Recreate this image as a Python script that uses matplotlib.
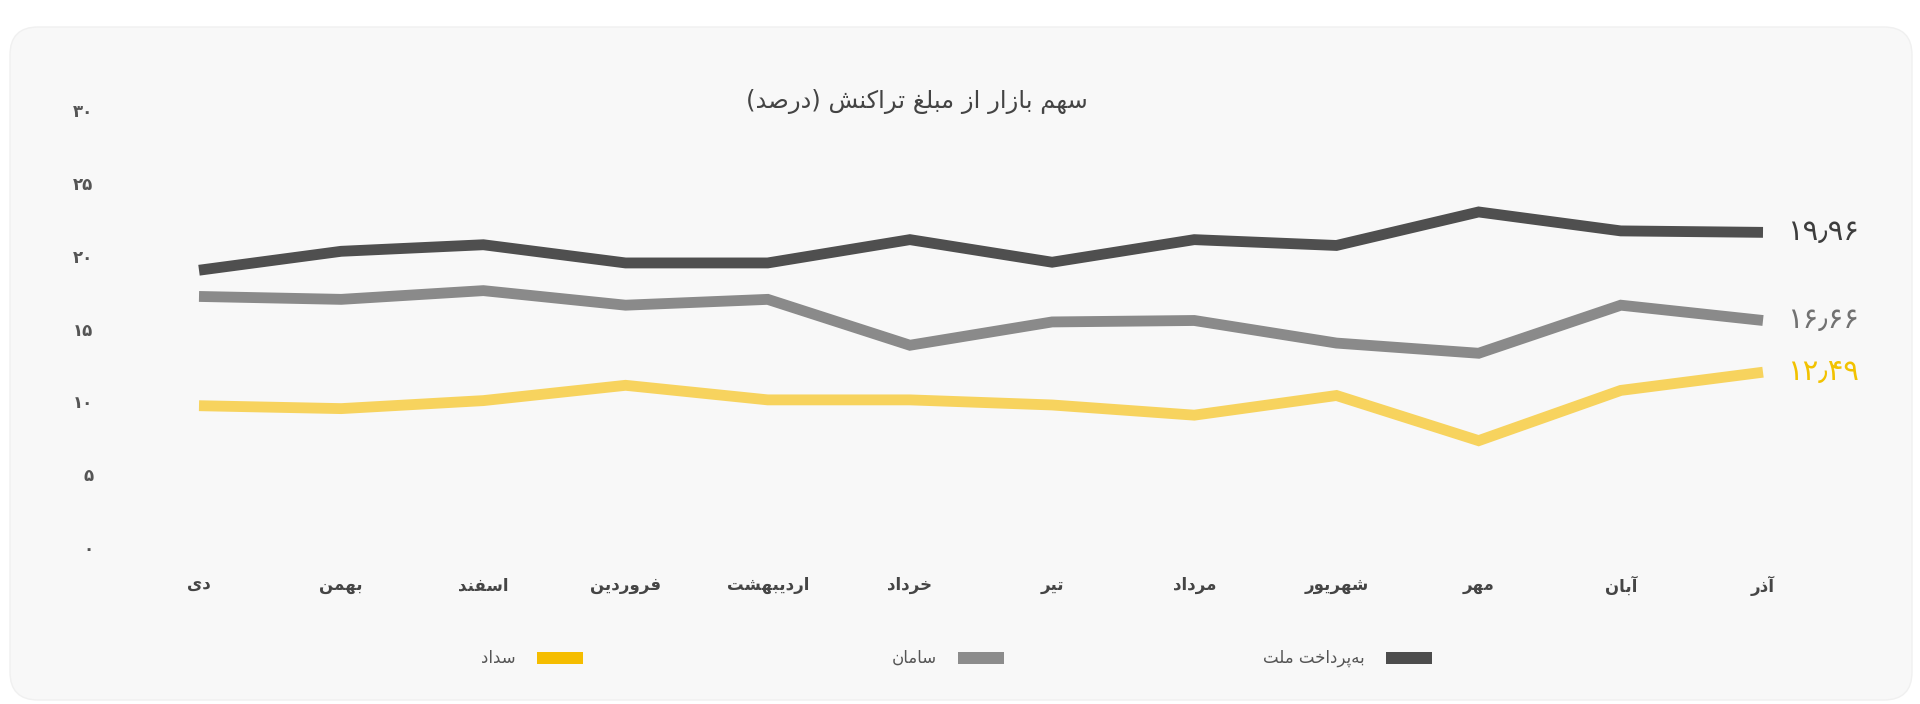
import matplotlib
matplotlib.use("Agg")
import matplotlib.pyplot as plt
from matplotlib.patches import FancyBboxPatch, Rectangle
from matplotlib.transforms import IdentityTransform

# ---------------- data ----------------
months = ["دی", "بهمن", "اسفند", "فروردین", "اردیبهشت", "خرداد",
          "تیر", "مرداد", "شهریور", "مهر", "آبان", "آذر"]
behpardakht = [19.0, 20.3, 20.75, 19.5, 19.5, 21.1, 19.55, 21.1, 20.7, 23.0, 21.7, 21.6]
saman = [17.2, 17.0, 17.6, 16.6, 17.0, 13.85, 15.45, 15.55, 14.0, 13.3, 16.6, 15.55]
sadad = [9.7, 9.5, 10.05, 11.1, 10.1, 10.1, 9.75, 9.05, 10.4, 7.3, 10.75, 12.0]
series_names = ["به‌پرداخت ملت", "سامان", "سداد"]
end_labels = ["۱۹٫۹۶", "۱۶٫۶۶", "۱۲٫۴۹"]
y_ticks = [0, 5, 10, 15, 20, 25, 30]
y_tick_labels = ["۰", "۵", "۱۰", "۱۵", "۲۰", "۲۵", "۳۰"]
title = "سهم بازار از مبلغ تراکنش (درصد)"

# ---------------- simple Persian shaping ----------------
FORMS = {
    '\u0627': ('\uFE8D', '\uFE8E', None, None),
    '\u0622': ('\uFE81', '\uFE82', None, None),
    '\u0628': ('\uFE8F', '\uFE90', '\uFE91', '\uFE92'),
    '\u067E': ('\uFB56', '\uFB57', '\uFB58', '\uFB59'),
    '\u062A': ('\uFE95', '\uFE96', '\uFE97', '\uFE98'),
    '\u062E': ('\uFEA5', '\uFEA6', '\uFEA7', '\uFEA8'),
    '\u062F': ('\uFEA9', '\uFEAA', None, None),
    '\u0630': ('\uFEAB', '\uFEAC', None, None),
    '\u0631': ('\uFEAD', '\uFEAE', None, None),
    '\u0632': ('\uFEAF', '\uFEB0', None, None),
    '\u0633': ('\uFEB1', '\uFEB2', '\uFEB3', '\uFEB4'),
    '\u0634': ('\uFEB5', '\uFEB6', '\uFEB7', '\uFEB8'),
    '\u0635': ('\uFEB9', '\uFEBA', '\uFEBB', '\uFEBC'),
    '\u063A': ('\uFECD', '\uFECE', '\uFECF', '\uFED0'),
    '\u0641': ('\uFED1', '\uFED2', '\uFED3', '\uFED4'),
    '\u06A9': ('\uFB8E', '\uFB8F', '\uFB90', '\uFB91'),
    '\u0644': ('\uFEDD', '\uFEDE', '\uFEDF', '\uFEE0'),
    '\u0645': ('\uFEE1', '\uFEE2', '\uFEE3', '\uFEE4'),
    '\u0646': ('\uFEE5', '\uFEE6', '\uFEE7', '\uFEE8'),
    '\u0648': ('\uFEED', '\uFEEE', None, None),
    '\u0647': ('\uFEE9', '\uFEEA', '\uFEEB', '\uFEEC'),
    '\u06CC': ('\uFBFC', '\uFBFD', '\uFBFE', '\uFBFF'),
}


def fa(s):
    out = []
    n = len(s)
    for i, c in enumerate(s):
        if c not in FORMS:
            out.append(c)
            continue
        f = FORMS[c]
        prev = s[i - 1] if i > 0 else None
        nxt = s[i + 1] if i < n - 1 else None
        jp = prev in FORMS and FORMS[prev][2] is not None
        jn = (nxt in FORMS) and f[2] is not None
        if jp and jn:
            out.append(f[3])
        elif jp:
            out.append(f[1])
        elif jn:
            out.append(f[2])
        else:
            out.append(f[0])
    out = [c for c in out if c != '\u200c']
    vis = ''.join(reversed(out))
    return vis.translate(str.maketrans('()', ')('))


plt.rcParams['font.family'] = ['DejaVu Sans']

W, H = 1920, 704
fig = plt.figure(figsize=(W / 100, H / 100), dpi=100)
fig.patch.set_facecolor("white")

card = FancyBboxPatch((10, 4), 1902, 673,
                      boxstyle="round,pad=0,rounding_size=28",
                      transform=IdentityTransform(),
                      facecolor="#f8f8f8", edgecolor="#f0f0f0", lw=1.0,
                      zorder=-10)
fig.patches.append(card)

ax = fig.add_axes([199 / W, (H - 547) / H, 1564 / W, 437 / H])
ax.set_zorder(5)
ax.set_facecolor("none")
for sp in ax.spines.values():
    sp.set_visible(False)

x = list(range(len(months)))
series = [behpardakht, saman, sadad]
line_colors = ["#4f4f4f", "#8a8a8a", "#f7d35e"]
label_colors = ["#3d3d3d", "#727272", "#f2c200"]
for vals, col in zip(series, line_colors):
    ax.plot(x, vals, color=col, lw=7.8, solid_joinstyle="miter",
            solid_capstyle="butt", clip_on=False)

for vals, lab, col in zip(series, end_labels, label_colors):
    ax.annotate(lab, (x[-1], vals[-1]), xytext=(17, 0),
                textcoords="offset points", ha="left", va="center",
                fontsize=21, color=col)

ax.set_xlim(0, 11)
ax.set_ylim(0, 30)
ax.set_yticks(y_ticks)
ax.set_yticklabels(y_tick_labels, fontsize=12, fontweight="bold", color="#555555")
ax.set_xticks(x)
ax.set_xticklabels([fa(m) for m in months], fontsize=12, fontweight="bold",
                   color="#454545")
ax.tick_params(axis="y", length=0, pad=76)
ax.tick_params(axis="x", length=0, pad=21)
ax.grid(False)

fig.text(917 / W, (H - 101) / H, fa(title), ha="center", va="center",
         fontsize=17.5, color="#444444")

# legend (manual, to match layout)
legend_colors = ["#4d4d4d", "#8c8c8c", "#f5bd00"]
swatch_x = [1386, 958, 537]
label_right = [1365, 937, 516]
ly = 658
for name, col, sx, lr in zip(series_names, legend_colors, swatch_x, label_right):
    fig.patches.append(Rectangle((sx, H - ly - 6), 46, 12,
                                 transform=IdentityTransform(),
                                 facecolor=col, edgecolor="none"))
    fig.text(lr / W, (H - ly) / H, fa(name), ha="right", va="center",
             fontsize=12, color="#555555")

fig.savefig("out.png", dpi=100, facecolor=fig.get_facecolor())
